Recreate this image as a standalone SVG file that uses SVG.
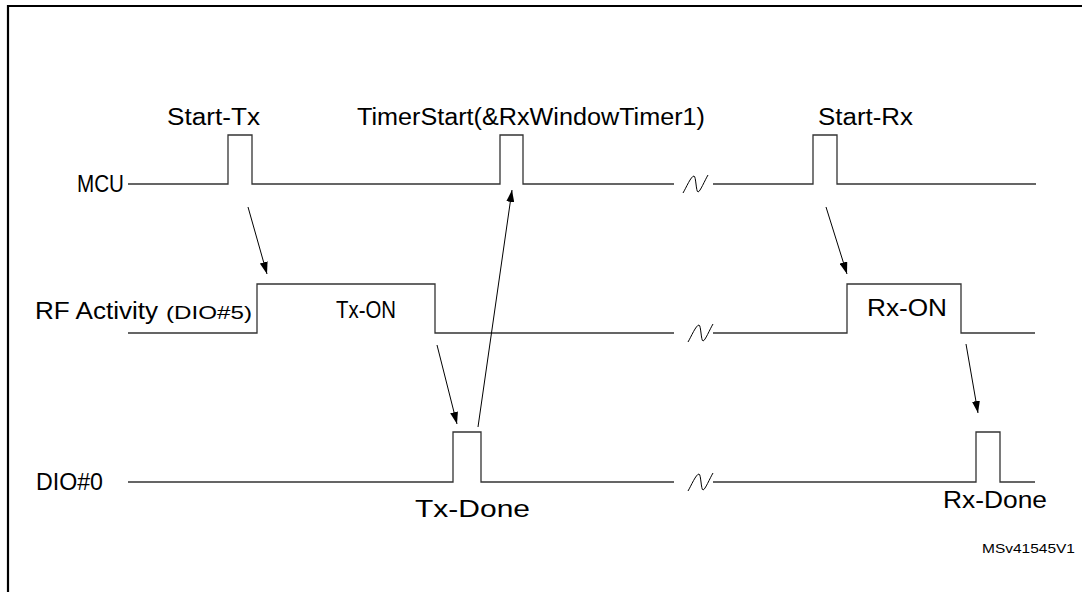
<svg xmlns="http://www.w3.org/2000/svg" width="1082" height="592" viewBox="0 0 1082 592">
<style>
.t{font-family:"Liberation Sans",Arial,sans-serif;font-size:23px;fill:#000}
.s{font-family:"Liberation Sans",Arial,sans-serif;font-size:19px;fill:#000}
.m{font-family:"Liberation Sans",Arial,sans-serif;font-size:13px;fill:#000}
.w{fill:none;stroke:#333;stroke-width:1.3}
.br{fill:none;stroke:#000;stroke-width:1}
.a{fill:none;stroke:#000;stroke-width:1;marker-end:url(#ah)}
</style>
<defs>
<marker id="ah" viewBox="0 0 12 8" refX="12" refY="4" markerWidth="12" markerHeight="8" markerUnits="userSpaceOnUse" orient="auto">
<path d="M0,0 L12,4 L0,8 z" fill="#000"/>
</marker>
<path id="sq" d="M0,9 C3,4 8,-8 11,-8 C13,-8 13,8 15,8 C17,8 22,-4 25,-9"/>
</defs>
<rect width="1082" height="592" fill="#fff"/>
<path d="M8,592 V6 H1082" fill="none" stroke="#000" stroke-width="2.2"/>
<g id="mcu">
<text class="t" x="77" y="192" textLength="47" lengthAdjust="spacingAndGlyphs">MCU</text>
<path class="w" d="M128,184 H228 V135 H252 V184 H500 V135 H523 V184 H674"/>
<use href="#sq" class="br" x="683" y="184"/>
<path class="w" d="M713,184 H813 V135 H837 V184 H1036"/>
<text class="t" x="167" y="125" textLength="93" lengthAdjust="spacingAndGlyphs">Start-Tx</text>
<text class="t" x="357" y="125" textLength="348" lengthAdjust="spacingAndGlyphs">TimerStart(&amp;RxWindowTimer1)</text>
<text class="t" x="818" y="125" textLength="95" lengthAdjust="spacingAndGlyphs">Start-Rx</text>
</g>
<g id="rf">
<text class="t" x="35" y="319" textLength="123" lengthAdjust="spacingAndGlyphs">RF Activity</text>
<text class="s" x="166" y="319" textLength="86" lengthAdjust="spacingAndGlyphs">(DIO#5)</text>
<path class="w" d="M128,333 H257 V284 H435 V333 H674"/>
<use href="#sq" class="br" x="688" y="333"/>
<path class="w" d="M713,333 H847 V284 H961 V333 H1035"/>
<text class="t" x="336" y="318" textLength="60" lengthAdjust="spacingAndGlyphs">Tx-ON</text>
<text class="t" x="867" y="316" textLength="80" lengthAdjust="spacingAndGlyphs">Rx-ON</text>
</g>
<g id="dio0">
<text class="t" x="36" y="490" textLength="67" lengthAdjust="spacingAndGlyphs">DIO#0</text>
<path class="w" d="M128,482 H453 V432 H481 V482 H674"/>
<use href="#sq" class="br" x="688" y="482"/>
<path class="w" d="M713,482 H976 V432 H1000 V482 H1035"/>
<text class="t" x="415" y="517" textLength="115" lengthAdjust="spacingAndGlyphs">Tx-Done</text>
<text class="t" x="943" y="508" textLength="104" lengthAdjust="spacingAndGlyphs">Rx-Done</text>
</g>
<g id="connectors">
<path class="a" d="M248,207 L267,274"/>
<path class="a" d="M437,345 L457,424"/>
<path class="a" d="M478,427 L512,190"/>
<path class="a" d="M826,207 L847,274"/>
<path class="a" d="M966,344 L978,413"/>
</g>
<text class="m" x="982" y="553" textLength="93" lengthAdjust="spacingAndGlyphs">MSv41545V1</text>
</svg>
